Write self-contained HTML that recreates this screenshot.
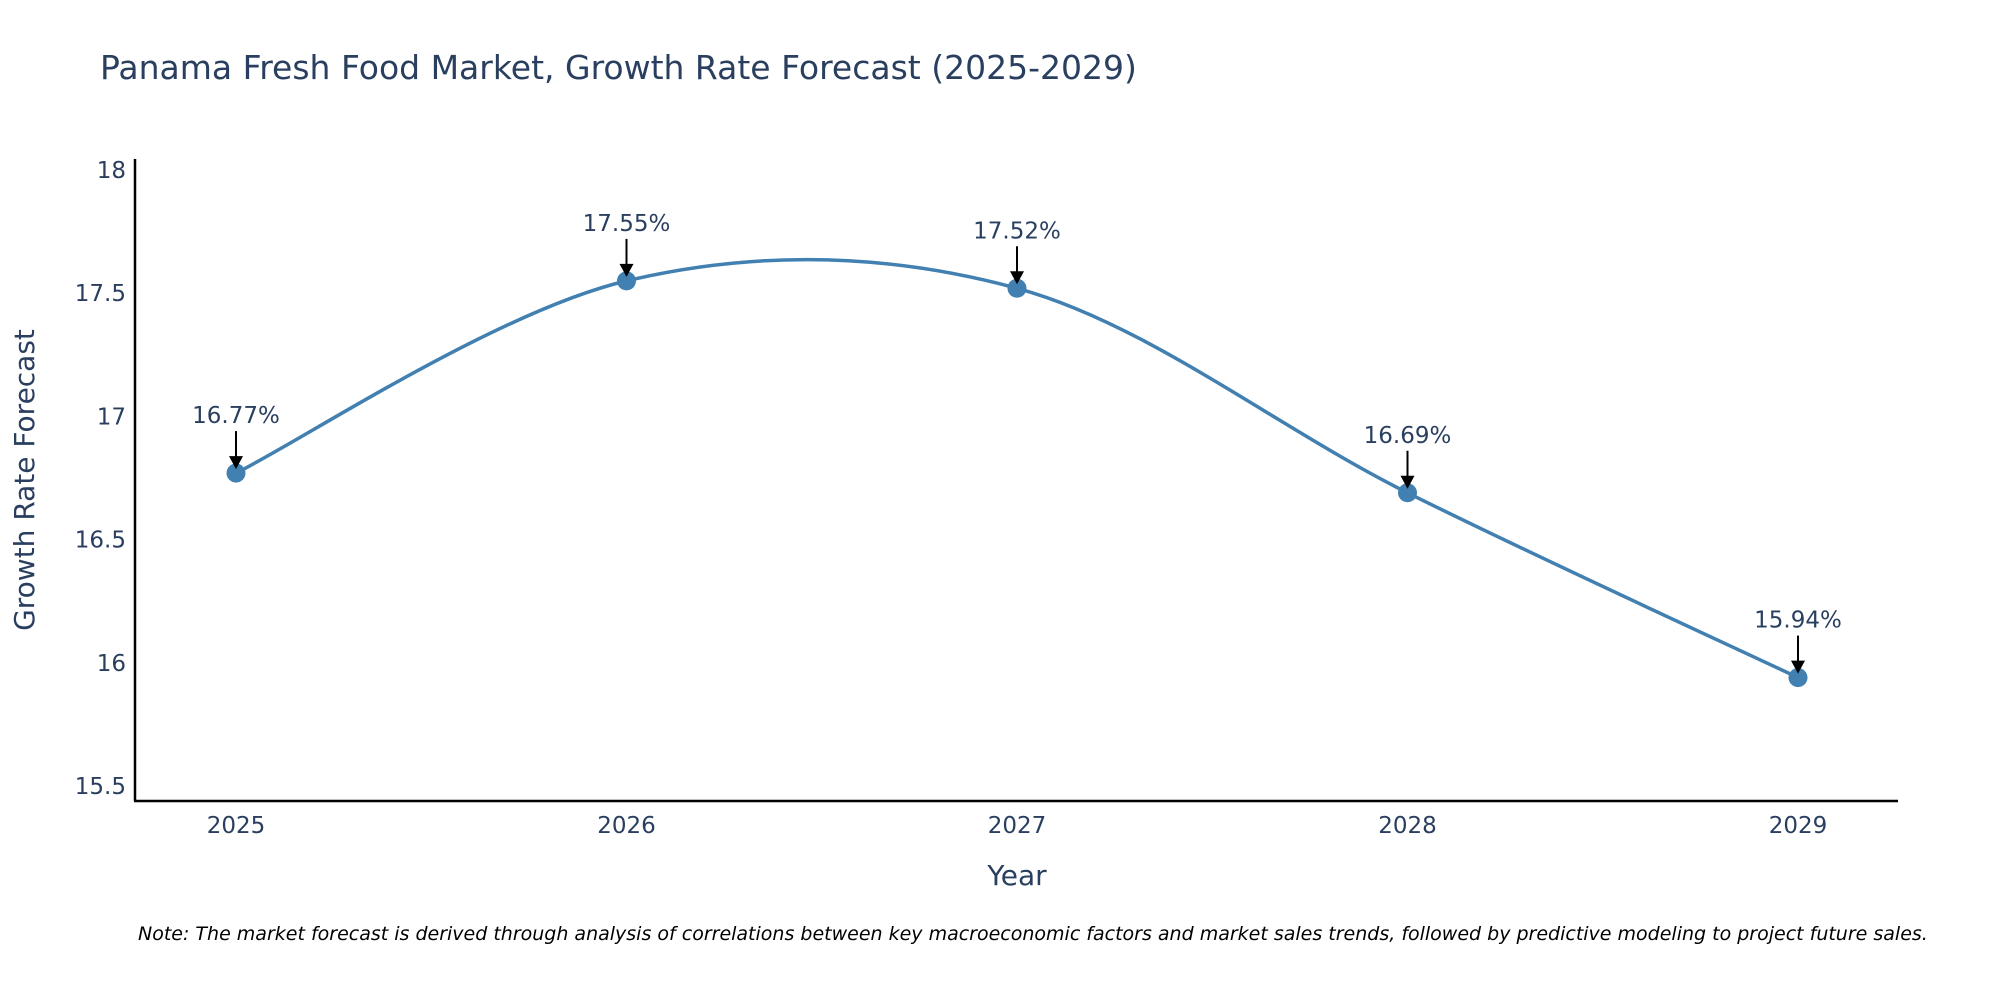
<!DOCTYPE html>
<html><head><meta charset="utf-8"><style>
body{margin:0;background:#fff;overflow:hidden;}
svg{display:block;font-family:"DejaVu Sans","Liberation Sans",sans-serif;}
</style></head><body>
<svg id="chart" width="2000" height="1000">
<text x="100" y="79" font-size="33" fill="#2a3f5f">Panama Fresh Food Market, Growth Rate Forecast (2025-2029)</text>
<g id="yticks"></g>
<g id="xticks"></g>
<line x1="135" y1="159" x2="135" y2="801" stroke="#000" stroke-width="2.5"/>
<line x1="134" y1="801" x2="1898" y2="801" stroke="#000" stroke-width="2.5"/>
<text transform="translate(34,480) rotate(-90)" text-anchor="middle" font-size="28" fill="#2a3f5f">Growth Rate Forecast</text>
<text x="1017" y="885" text-anchor="middle" font-size="28" fill="#2a3f5f">Year</text>
<g id="series"></g>
<g id="annots"></g>
<text x="138" y="940" font-size="19" font-style="italic" fill="#000">Note: The market forecast is derived through analysis of correlations between key macroeconomic factors and market sales trends, followed by predictive modeling to project future sales.</text>
</svg>
<script>
const years = [2025, 2026, 2027, 2028, 2029];
const growth = [16.77, 17.55, 17.52, 16.69, 15.94];
const labels = ["16.77%", "17.55%", "17.52%", "16.69%", "15.94%"];
const yTicks = [15.5, 16, 16.5, 17, 17.5, 18];
const yTickLabels = ["15.5", "16", "16.5", "17", "17.5", "18"];

const NS = "http://www.w3.org/2000/svg";
const xS = v => 236 + (v - 2025) * 390.5;
const yS = v => 786 - (v - 15.5) * 246.4;
function mk(tag, attrs, parent) {
  const e = document.createElementNS(NS, tag);
  for (const k in attrs) e.setAttribute(k, attrs[k]);
  parent.appendChild(e);
  return e;
}
const yt = document.getElementById('yticks');
yTicks.forEach((t, i) => {
  const e = mk('text', {x: 126, y: yS(t) + 8, 'text-anchor': 'end', 'font-size': 23, fill: '#2a3f5f'}, yt);
  
  
  e.textContent = yTickLabels[i];
});
const xt = document.getElementById('xticks');
years.forEach(y => {
  const e = mk('text', {x: xS(y), y: 833, 'text-anchor': 'middle', 'font-size': 23, fill: '#2a3f5f'}, xt);
  
  
  e.textContent = String(y);
});
const pts = years.map((y, i) => [xS(y), yS(growth[i])]);
let d = `M${pts[0][0]},${pts[0][1]}`;
const t = 0.5;
for (let i = 0; i < pts.length - 1; i++) {
  const p0 = pts[Math.max(0, i - 1)], p1 = pts[i], p2 = pts[i + 1], p3 = pts[Math.min(pts.length - 1, i + 2)];
  const c1 = [p1[0] + (p2[0] - p0[0]) * t / 3, p1[1] + (p2[1] - p0[1]) * t / 3];
  const c2 = [p2[0] - (p3[0] - p1[0]) * t / 3, p2[1] - (p3[1] - p1[1]) * t / 3];
  d += ` C${c1[0]},${c1[1]} ${c2[0]},${c2[1]} ${p2[0]},${p2[1]}`;
}
const s = document.getElementById('series');
const line = mk('path', {d: d, fill: 'none', stroke: '#4180b0', 'stroke-width': 3.5}, s);


const an = document.getElementById('annots');
pts.forEach((p, i) => {
  const c = mk('circle', {cx: p[0], cy: p[1], r: 9.5, fill: '#4180b0'}, s);
  
  
  const l = mk('line', {x1: p[0], y1: p[1] - 42, x2: p[0], y2: p[1] - 14, stroke: '#000', 'stroke-width': 2}, an);
  
  
  const h = mk('path', {d: `M${p[0]-7},${p[1]-17} L${p[0]+7},${p[1]-17} L${p[0]},${p[1]-4} Z`, fill: '#000'}, an);
  
  
  const tx = mk('text', {x: p[0], y: p[1] - 50, 'text-anchor': 'middle', 'font-size': 23, fill: '#2a3f5f'}, an);
  
  
  tx.textContent = labels[i];
});
</script>
</body></html>
